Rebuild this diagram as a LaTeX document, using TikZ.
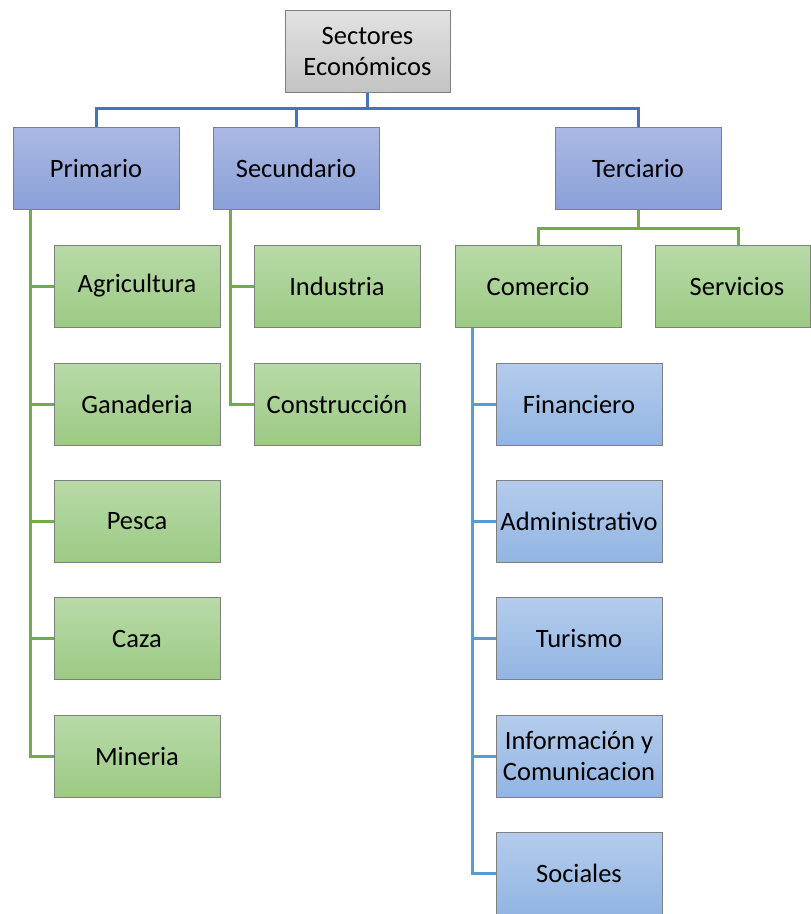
\documentclass[tikz,border=0pt]{standalone}
\usepackage{fontspec}
\setmainfont{Carlito}
\usetikzlibrary{backgrounds}
\begin{document}
\begin{tikzpicture}[x=1pt,y=-1pt,
  box/.style={rectangle, draw=boxedge, line width=1pt, minimum width=166pt, minimum height=82pt,
    inner sep=2pt, align=center, font=\fontsize{26.5}{31}\selectfont},
  grisbox/.style={box, top color=grisT, bottom color=grisB},
  azulbox/.style={box, top color=azulT, bottom color=azulB},
  verdebox/.style={box, top color=verdeT, bottom color=verdeB},
  celestebox/.style={box, top color=celT, bottom color=celB},
  lazul/.style={draw=lineazul, line width=3pt},
  lverde/.style={draw=lineverde, line width=3pt},
  lceleste/.style={draw=lineceleste, line width=3pt}]
\definecolor{boxedge}{HTML}{7F7F7F}
\definecolor{grisT}{HTML}{E2E2E2}
\definecolor{grisB}{HTML}{C4C4C4}
\definecolor{azulT}{HTML}{ABB9E3}
\definecolor{azulB}{HTML}{8AA0D8}
\definecolor{verdeT}{HTML}{B8DAA8}
\definecolor{verdeB}{HTML}{9CCA84}
\definecolor{celT}{HTML}{B4CCEC}
\definecolor{celB}{HTML}{92B5E3}
\definecolor{lineazul}{HTML}{4472C4}
\definecolor{lineverde}{HTML}{70AD47}
\definecolor{lineceleste}{HTML}{5B9BD5}

\useasboundingbox (0,0) rectangle (811,914);

% top level
\node[grisbox, minimum width=165pt] (sec) at (367.5,51) {Sectores\\Económicos};
% sectors
\node[azulbox] (pri) at (96,168.5) {Primario};
\node[azulbox] (scd) at (296,168.5) {Secundario};
\node[azulbox] (ter) at (638,168.5) {Terciario};
% primary activities
\node[verdebox] (agr) at (137,286) {Agricultura};
\node[verdebox] (gan) at (137,404) {Ganaderia};
\node[verdebox] (pes) at (137,521) {Pesca};
\node[verdebox] (caz) at (137,638.5) {Caza};
\node[verdebox] (min) at (137,756) {Mineria};
% secondary activities
\node[verdebox] (ind) at (337,286) {Industria};
\node[verdebox] (con) at (337,404) {Construcción};
% tertiary activities
\node[verdebox] (com) at (538,286) {Comercio};
\node[verdebox, minimum width=155pt] (ser) at (732.5,286) {\hspace*{9pt}Servicios};
% commerce branches
\node[celestebox] (fin) at (579,404) {Financiero};
\node[celestebox] (adm) at (579,521) {Administrativo};
\node[celestebox] (tur) at (579,638.5) {Turismo};
\node[celestebox] (inf) at (579,756) {Información y\\Comunicacion};
\node[celestebox] (soc) at (579,873) {Sociales};

% connectors, kept behind the boxes
\coordinate (bus) at (367.5,108);
\coordinate (tbus) at (638,228);
\coordinate (serin) at (738,245);
\coordinate (pv) at (30,210);
\coordinate (sv) at (230,210);
\coordinate (cv) at (472,327);

\begin{scope}[on background layer]
\draw[lazul] (sec.south) -- (bus);
\draw[lazul] (pri.north) |- (bus) -| (ter.north);
\draw[lazul] (scd.north) -- (scd.north |- bus);

\draw[lverde] (pv) |- (min.west);
\foreach \n in {agr,gan,pes,caz} \draw[lverde] (pv |- \n.west) -- (\n.west);
\draw[lverde] (sv) |- (con.west);
\draw[lverde] (sv |- ind.west) -- (ind.west);
\draw[lverde] (ter.south) -- (tbus);
\draw[lverde] (com.north) |- (tbus) -| (serin);

\draw[lceleste] (cv) |- (soc.west);
\foreach \n in {fin,adm,tur,inf} \draw[lceleste] (cv |- \n.west) -- (\n.west);
\end{scope}
\end{tikzpicture}
\end{document}
